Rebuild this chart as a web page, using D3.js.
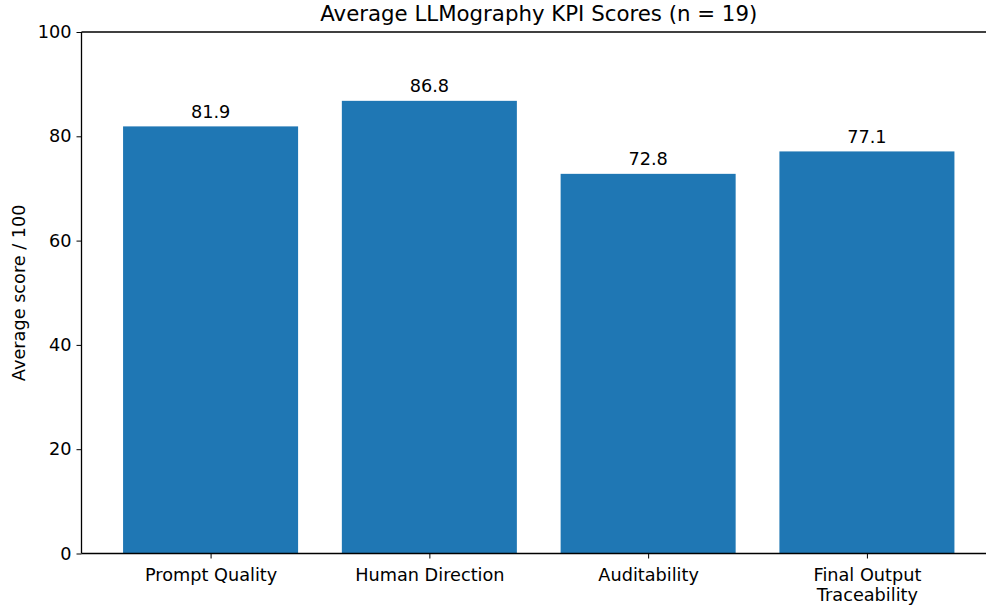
<!DOCTYPE html>
<html><head><meta charset="utf-8">
<script src="https://cdn.jsdelivr.net/npm/d3@7"></script>
<style>body{margin:0;background:#fff}svg{display:block;font-family:"DejaVu Sans",sans-serif}</style>
</head><body><svg id="c" width="986" height="605"></svg>
<script>
const categories = ["Prompt Quality", "Human Direction", "Auditability", "Final Output\nTraceability"];
const values = [81.9, 86.8, 72.8, 77.1];
const yTicks = [0, 20, 40, 60, 80, 100];
const title = "Average LLMography KPI Scores (n = 19)";
const yLabel = "Average score / 100";

const svg = d3.select("#c");
const L = 81.5, R = 996, T = 32, B = 553.5;
const FS = 17.7, TFS = 21.3;
const x = d3.scaleLinear().domain([-0.59, 3.59]).range([L, R]);
const y = d3.scaleLinear().domain([0, 100]).range([B, T]);
const bw = 0.8;

svg.append("g").selectAll("rect").data(values).join("rect")
  .attr("x", (d, i) => x(i - bw / 2))
  .attr("width", (d, i) => x(i + bw / 2) - x(i - bw / 2))
  .attr("y", d => y(d))
  .attr("height", d => y(0) - y(d))
  .attr("fill", "#1f77b4");

svg.append("g").selectAll("text").data(values).join("text")
  .attr("x", (d, i) => x(i))
  .attr("y", d => y(d) - 8.5)
  .attr("text-anchor", "middle")
  .attr("font-size", FS)
  .attr("fill", "#000")
  .text(d => d.toFixed(1));

// y axis
const ya = svg.append("g").attr("transform", `translate(${L},0)`)
  .call(d3.axisLeft(y).tickValues(yTicks).tickSize(5).tickPadding(5).tickFormat(d3.format("d")));
ya.select(".domain").remove();
ya.selectAll("text").attr("font-size", FS).attr("font-family", "DejaVu Sans").attr("fill", "#000");
ya.selectAll("line").attr("stroke", "#000");

// x axis
const xa = svg.append("g").attr("transform", `translate(0,${B})`)
  .call(d3.axisBottom(x).tickValues(d3.range(categories.length)).tickSize(5).tickPadding(5).tickFormat(() => ""));
xa.select(".domain").remove();
xa.selectAll("line").attr("stroke", "#000");
xa.selectAll(".tick").each(function(d) {
  const t = d3.select(this).select("text");
  t.text(null).attr("font-size", FS).attr("font-family", "DejaVu Sans").attr("fill", "#000").attr("dy", null).attr("y", 27);
  categories[d].split("\n").forEach((s, k) => {
    t.append("tspan").attr("x", 0).attr("y", 27 + k * 20.5).text(s);
  });
});

// spines
svg.append("line").attr("x1", L).attr("x2", L).attr("y1", T).attr("y2", B).attr("stroke", "#000").attr("stroke-width", 1.3);
svg.append("line").attr("x1", L).attr("x2", R).attr("y1", B).attr("y2", B).attr("stroke", "#000").attr("stroke-width", 1.3);
svg.append("line").attr("x1", L).attr("x2", R).attr("y1", T).attr("y2", T).attr("stroke", "#000").attr("stroke-width", 1.3);

svg.append("text").attr("x", (L + R) / 2).attr("y", 21).attr("text-anchor", "middle")
  .attr("font-size", TFS).attr("fill", "#000").text(title);

svg.append("text").attr("transform", `translate(25,${(T + B) / 2}) rotate(-90)`)
  .attr("text-anchor", "middle").attr("font-size", FS).attr("fill", "#000").text(yLabel);
</script></body></html>
